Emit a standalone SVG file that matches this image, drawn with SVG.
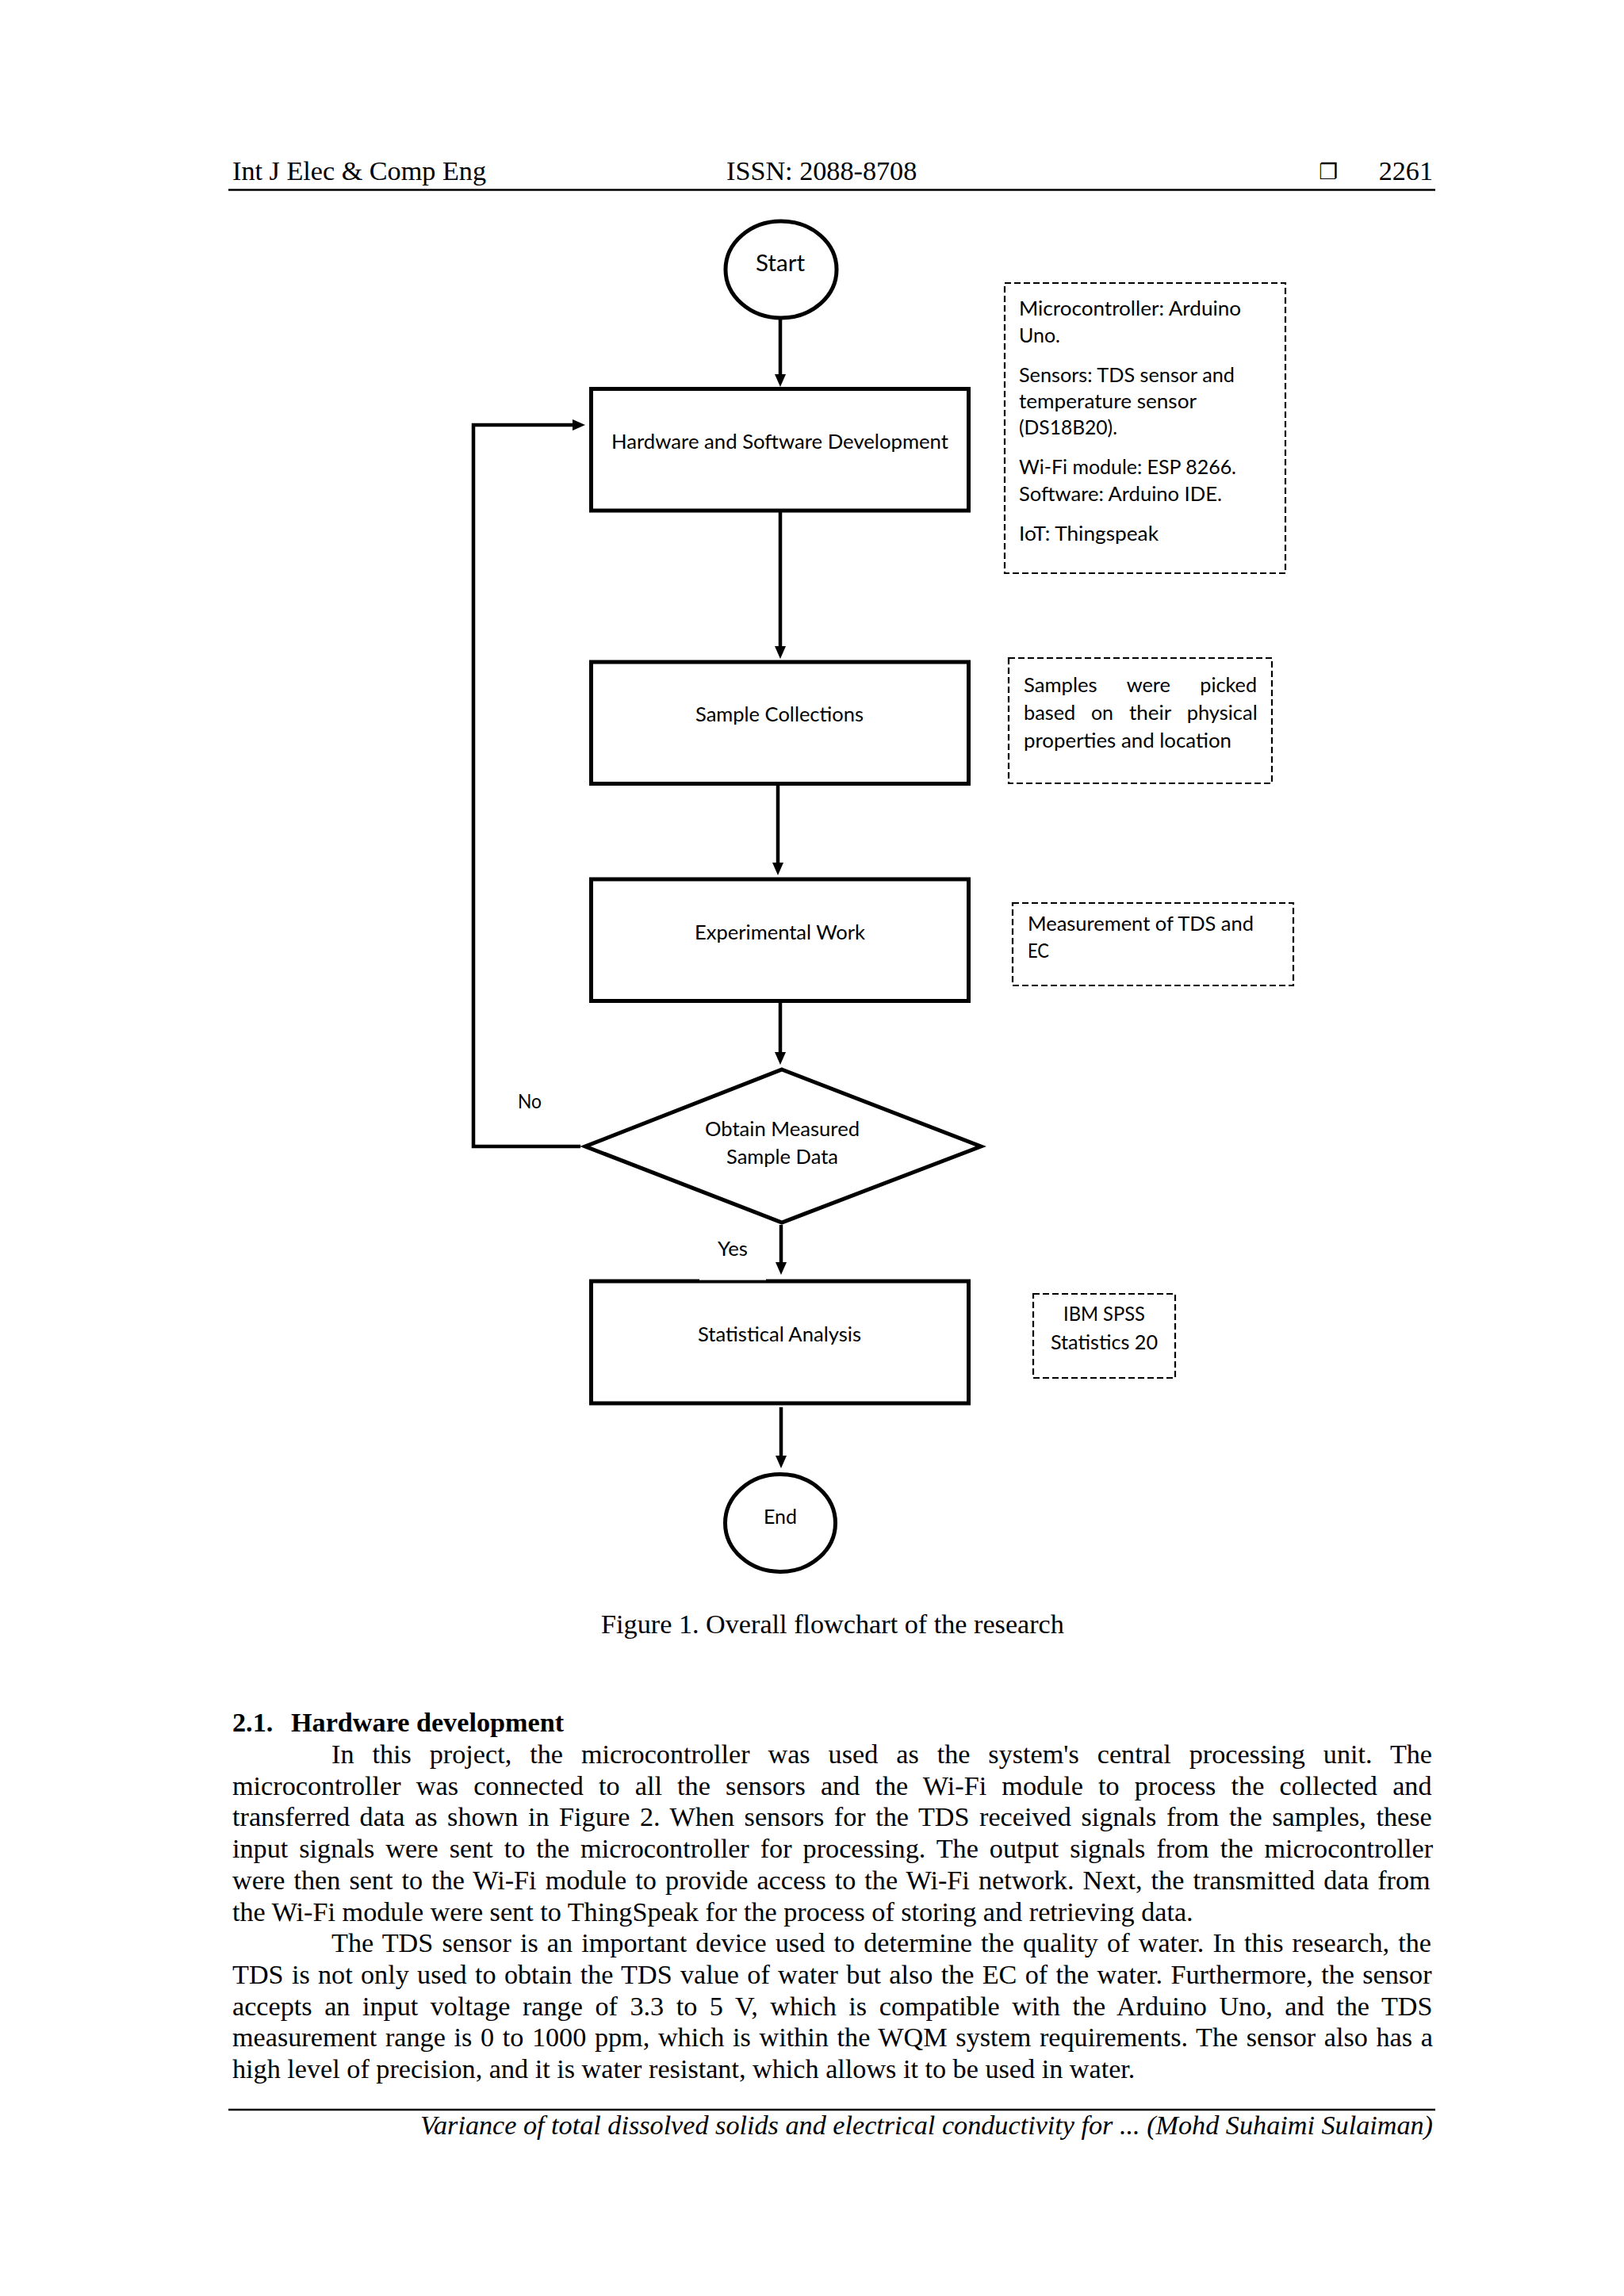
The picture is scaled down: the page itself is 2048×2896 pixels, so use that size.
<svg xmlns="http://www.w3.org/2000/svg" width="2048" height="2896" viewBox="0 0 2048 2896">
<defs>
<style>
.serif{font-family:"Liberation Serif","Times New Roman",serif;font-size:34.2px;fill:#000}
.bold{font-weight:bold}
.ital{font-style:italic}
.fc{font-family:Lato,"Open Sans","Noto Sans",sans-serif;font-size:25px;fill:#000}
.node{fill:#fff;stroke:#000;stroke-width:5}
.note{fill:#fff;stroke:#000;stroke-width:2.2;stroke-dasharray:8 4}
.conn{fill:none;stroke:#000;stroke-width:4.5}
.rule{stroke:#000;stroke-width:2.6}
</style>
<marker id="arr" viewBox="0 -7 16 14" refX="0" refY="0" markerWidth="16" markerHeight="14" markerUnits="userSpaceOnUse" orient="auto">
<path d="M0,-7 L16,0 L0,7 z" fill="#000"/>
</marker>
</defs>
<rect width="2048" height="2896" fill="#fff"/>

<g id="page-header">
<text class="serif" x="293" y="227">Int J Elec &amp; Comp Eng</text>
<text class="serif" x="916" y="227">ISSN: 2088-8708</text>
<text x="1663" y="226" style="font-family:'DejaVu Sans',sans-serif;font-size:27px">❐</text>
<text class="serif" x="1807" y="227" text-anchor="end">2261</text>
<line class="rule" x1="288" y1="239.5" x2="1810" y2="239.5"/>
</g>

<g id="connectors">
<line class="conn" x1="984" y1="403" x2="984" y2="472" marker-end="url(#arr)"/>
<line class="conn" x1="984" y1="646" x2="984" y2="815" marker-end="url(#arr)"/>
<line class="conn" x1="981" y1="991" x2="981" y2="1088" marker-end="url(#arr)"/>
<line class="conn" x1="984" y1="1265" x2="984" y2="1327" marker-end="url(#arr)"/>
<line class="conn" x1="985" y1="1545" x2="985" y2="1592" marker-end="url(#arr)"/>
<line class="conn" x1="985" y1="1775" x2="985" y2="1836" marker-end="url(#arr)"/>
<polyline class="conn" points="732,1446 597,1446 597,536 722,536" marker-end="url(#arr)"/>
<text class="fc" x="653" y="1398" textLength="30" lengthAdjust="spacingAndGlyphs">No</text>
<text class="fc" x="905" y="1584" textLength="38" lengthAdjust="spacingAndGlyphs">Yes</text>
</g>

<g id="node-start">
<ellipse class="node" cx="985" cy="340" rx="70" ry="61"/>
<text class="fc" x="953" y="342" style="font-size:28.5px" textLength="62" lengthAdjust="spacingAndGlyphs">Start</text>
</g>

<g id="node-hardware">
<rect class="node" x="745.5" y="490.5" width="476" height="153.5"/>
<text class="fc" x="771" y="566" textLength="425" lengthAdjust="spacingAndGlyphs">Hardware and Software Development</text>
</g>

<g id="node-sample">
<rect class="node" x="745.5" y="835" width="476" height="153.5"/>
<text class="fc" x="877" y="910" textLength="212" lengthAdjust="spacingAndGlyphs">Sample Collections</text>
</g>

<g id="node-experimental">
<rect class="node" x="745.5" y="1109" width="476" height="153.5"/>
<text class="fc" x="876" y="1185" textLength="215" lengthAdjust="spacingAndGlyphs">Experimental Work</text>
</g>

<g id="node-decision">
<polygon class="node" points="986,1349 1237,1446 986,1542 738,1446"/>
<text class="fc" x="889" y="1433" textLength="195" lengthAdjust="spacingAndGlyphs">Obtain Measured</text>
<text class="fc" x="916" y="1468" textLength="141" lengthAdjust="spacingAndGlyphs">Sample Data</text>
</g>

<g id="node-statistical">
<rect class="node" x="745.5" y="1616" width="476" height="154"/>
<rect x="882" y="1612.6" width="84" height="2" fill="#fff"/>
<text class="fc" x="880" y="1692" textLength="206" lengthAdjust="spacingAndGlyphs">Statistical Analysis</text>
</g>

<g id="node-end">
<ellipse class="node" cx="984" cy="1921" rx="69.5" ry="61.5"/>
<text class="fc" x="963" y="1922" textLength="42" lengthAdjust="spacingAndGlyphs">End</text>
</g>

<g id="note-hardware">
<rect class="note" x="1267" y="357" width="354" height="366"/>
<text class="fc" x="1285" y="398" textLength="280" lengthAdjust="spacingAndGlyphs">Microcontroller: Arduino</text>
<text class="fc" x="1285" y="432" textLength="52" lengthAdjust="spacingAndGlyphs">Uno.</text>
<text class="fc" x="1285" y="482" textLength="272" lengthAdjust="spacingAndGlyphs">Sensors: TDS sensor and</text>
<text class="fc" x="1285" y="515" textLength="224" lengthAdjust="spacingAndGlyphs">temperature sensor</text>
<text class="fc" x="1285" y="548" textLength="124" lengthAdjust="spacingAndGlyphs">(DS18B20).</text>
<text class="fc" x="1285" y="598" textLength="274" lengthAdjust="spacingAndGlyphs">Wi-Fi module: ESP 8266.</text>
<text class="fc" x="1285" y="632" textLength="256" lengthAdjust="spacingAndGlyphs">Software: Arduino IDE.</text>
<text class="fc" x="1285" y="682" textLength="176" lengthAdjust="spacingAndGlyphs">IoT: Thingspeak</text>
</g>

<g id="note-sample">
<rect class="note" x="1272" y="830" width="332" height="158"/>
<text class="fc" y="873"><tspan x="1291" textLength="92.7" lengthAdjust="spacingAndGlyphs">Samples</tspan> <tspan x="1420.7" textLength="55.3" lengthAdjust="spacingAndGlyphs">were</tspan> <tspan x="1513.3" textLength="71.7" lengthAdjust="spacingAndGlyphs">picked</tspan></text>
<text class="fc" y="907.5"><tspan x="1291" textLength="65.3" lengthAdjust="spacingAndGlyphs">based</tspan> <tspan x="1376" textLength="28" lengthAdjust="spacingAndGlyphs">on</tspan> <tspan x="1424" textLength="52.7" lengthAdjust="spacingAndGlyphs">their</tspan> <tspan x="1496.7" textLength="89" lengthAdjust="spacingAndGlyphs">physical</tspan></text>
<text class="fc" x="1291" y="942.5" textLength="262" lengthAdjust="spacingAndGlyphs">properties and location</text>
</g>

<g id="note-experimental">
<rect class="note" x="1277" y="1139" width="354" height="104"/>
<text class="fc" x="1296" y="1174" textLength="285" lengthAdjust="spacingAndGlyphs">Measurement of TDS and</text>
<text class="fc" x="1296" y="1207.5" textLength="27" lengthAdjust="spacingAndGlyphs">EC</text>
</g>

<g id="note-statistical">
<rect class="note" x="1303" y="1632" width="179" height="106"/>
<text class="fc" x="1341" y="1666" textLength="103" lengthAdjust="spacingAndGlyphs">IBM SPSS</text>
<text class="fc" x="1325" y="1702" textLength="135" lengthAdjust="spacingAndGlyphs">Statistics 20</text>
</g>

<g id="caption">
<text class="serif" x="1050" y="2060" text-anchor="middle">Figure 1. Overall flowchart of the research</text>
</g>

<g id="body-text" class="serif">
<text class="serif bold" y="2184"><tspan x="293">2.1.</tspan><tspan x="367">Hardware development</tspan></text>
<text class="serif" x="418" y="2224" word-spacing="14.4">In this project, the microcontroller was used as the system's central processing unit. The</text>
<text class="serif" x="293" y="2263.7" word-spacing="10.65">microcontroller was connected to all the sensors and the Wi-Fi module to process the collected and</text>
<text class="serif" x="293" y="2303.4" word-spacing="4.0">transferred data as shown in Figure 2. When sensors for the TDS received signals from the samples, these</text>
<text class="serif" x="293" y="2343.1" word-spacing="5.45">input signals were sent to the microcontroller for processing. The output signals from the microcontroller</text>
<text class="serif" x="293" y="2382.8" word-spacing="2.5">were then sent to the Wi-Fi module to provide access to the Wi-Fi network. Next, the transmitted data from</text>
<text class="serif" x="293" y="2422.5">the Wi-Fi module were sent to ThingSpeak for the process of storing and retrieving data.</text>
<text class="serif" x="418" y="2462.2" word-spacing="2.6">The TDS sensor is an important device used to determine the quality of water. In this research, the</text>
<text class="serif" x="293" y="2501.9" word-spacing="1.75">TDS is not only used to obtain the TDS value of water but also the EC of the water. Furthermore, the sensor</text>
<text class="serif" x="293" y="2541.6" word-spacing="7.0">accepts an input voltage range of 3.3 to 5 V, which is compatible with the Arduino Uno, and the TDS</text>
<text class="serif" x="293" y="2581.3" word-spacing="2.1">measurement range is 0 to 1000 ppm, which is within the WQM system requirements. The sensor also has a</text>
<text class="serif" x="293" y="2621">high level of precision, and it is water resistant, which allows it to be used in water.</text>
</g>

<g id="page-footer">
<line class="rule" x1="288" y1="2661" x2="1810" y2="2661"/>
<text class="serif ital" x="1807" y="2692" text-anchor="end">Variance of total dissolved solids and electrical conductivity for ... (Mohd Suhaimi Sulaiman)</text>
</g>
</svg>
